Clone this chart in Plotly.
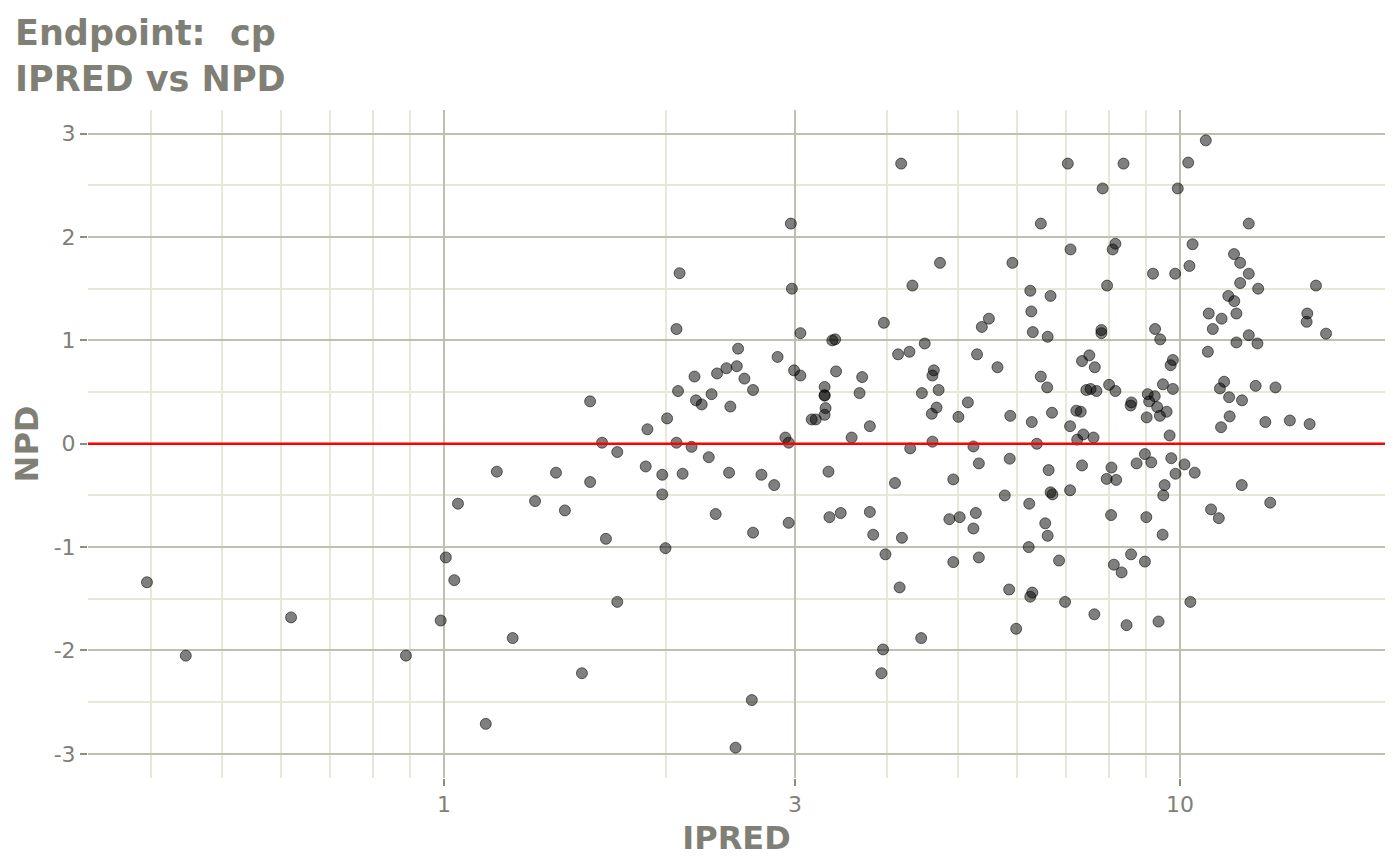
import numpy as np
import plotly.graph_objects as go

# ---- data (IPRED, NPD) ----
ipred = [
    0.395, 0.446, 0.620, 0.888, 0.99, 1.006, 1.033, 1.045, 1.18, 1.24, 1.14,
    2.09, 2.97, 2.07, 3.05, 2.51, 2.84, 2.50, 2.42, 2.35, 2.19, 2.56, 2.99, 3.05,
    2.08, 2.63, 2.31, 2.20, 2.24, 2.45, 1.58, 2.01, 1.89, 1.64, 1.72, 2.07, 2.17,
    2.29, 2.91, 2.94, 3.16, 3.20, 1.42, 1.58, 1.88, 1.98, 2.11, 2.44, 2.70, 2.81,
    1.33, 1.46, 1.98, 2.34, 2.63, 2.94, 1.66, 2.00, 1.72, 1.54, 2.62, 2.49, 2.96,
    4.18, 4.72, 5.92, 4.33, 3.96, 5.50, 5.38, 3.37, 3.40, 4.14, 4.29, 4.50, 5.30,
    5.65, 3.41, 3.70, 4.63, 4.61, 3.29, 3.29, 3.29, 3.67, 4.46, 4.70, 3.30, 3.29,
    4.67, 4.60, 5.15, 5.00, 5.88, 3.79, 3.58, 4.61, 4.30, 5.24,
    5.33, 5.87, 3.33, 4.10, 4.92, 5.78, 3.34, 3.46, 3.79, 3.83, 4.19, 4.86, 5.02,
    5.28, 5.24, 3.98, 4.92, 5.33, 4.16, 5.86, 5.99, 4.45, 3.95, 3.93,
    7.04, 8.38, 7.85, 9.93, 6.47, 7.10, 8.17, 8.10, 9.19, 9.85, 6.26, 6.67, 7.96,
    6.28, 6.31, 6.61, 7.82, 7.82, 9.25, 9.40, 7.53, 7.36, 7.66, 6.47, 6.60, 7.46,
    7.56, 7.70, 8.01, 8.17, 9.78, 9.71, 9.48, 9.78, 8.59, 8.57, 9.04, 9.08, 9.24,
    9.31, 9.39, 9.59, 9.01, 6.29, 6.70, 7.23, 7.33, 7.09, 7.39, 7.25, 7.63, 6.39,
    9.68,
    6.63, 7.36, 8.07, 7.95, 8.19, 8.73, 8.96, 9.14, 9.73, 9.86, 6.67, 6.71, 7.09,
    6.24, 6.56, 6.61, 8.06, 9.00, 9.53, 9.49, 9.47, 6.23, 6.85, 8.13, 8.33, 8.58,
    8.96, 6.26, 6.30, 6.98, 7.65, 8.46, 9.35,
    10.84, 10.26, 12.40, 10.40, 11.84, 12.07, 12.40, 12.07, 12.77, 15.30, 10.30,
    11.63, 11.85, 10.94, 11.39, 11.93, 11.08, 14.89, 14.86, 15.79, 12.40, 11.93,
    12.74, 10.91, 11.48, 11.33, 11.66, 12.14, 12.67, 13.48, 11.68, 11.37, 13.06,
    14.10, 15.00,
    10.14, 10.47, 12.13, 13.26, 11.02, 11.29, 10.33,
]
npd = [
    -1.34, -2.05, -1.68, -2.05, -1.71, -1.10, -1.32, -0.58, -0.27, -1.88, -2.71,
    1.65, 1.50, 1.11, 1.07, 0.92, 0.84, 0.75, 0.73, 0.68, 0.65, 0.63, 0.71, 0.66,
    0.51, 0.52, 0.48, 0.42, 0.38, 0.36, 0.41, 0.245, 0.14, 0.01, -0.08, 0.01, -0.03,
    -0.13, 0.06, 0.01, 0.235, 0.235, -0.28, -0.37, -0.22, -0.30, -0.29, -0.28, -0.30, -0.40,
    -0.555, -0.645, -0.49, -0.68, -0.86, -0.765, -0.92, -1.01, -1.53, -2.22, -2.48, -2.94, 2.13,
    2.71, 1.75, 1.75, 1.53, 1.17, 1.21, 1.13, 1.00, 1.01, 0.865, 0.89, 0.97, 0.865,
    0.74, 0.70, 0.645, 0.71, 0.66, 0.55, 0.47, 0.465, 0.49, 0.49, 0.52, 0.345, 0.28,
    0.35, 0.29, 0.40, 0.26, 0.27, 0.17, 0.06, 0.02, -0.045, -0.026,
    -0.19, -0.145, -0.27, -0.38, -0.345, -0.50, -0.71, -0.67, -0.66, -0.88, -0.91, -0.73, -0.71,
    -0.67, -0.82, -1.07, -1.145, -1.10, -1.39, -1.41, -1.79, -1.88, -1.99, -2.22,
    2.71, 2.71, 2.47, 2.47, 2.13, 1.88, 1.935, 1.88, 1.645, 1.645, 1.48, 1.43, 1.53,
    1.28, 1.08, 1.035, 1.10, 1.07, 1.11, 1.01, 0.855, 0.80, 0.74, 0.65, 0.545, 0.52,
    0.53, 0.51, 0.57, 0.51, 0.81, 0.76, 0.575, 0.53, 0.40, 0.37, 0.48, 0.41, 0.46,
    0.355, 0.27, 0.31, 0.255, 0.21, 0.30, 0.32, 0.31, 0.17, 0.09, 0.04, 0.06, 0.00,
    0.08,
    -0.255, -0.21, -0.23, -0.34, -0.35, -0.19, -0.10, -0.18, -0.14, -0.29, -0.47, -0.49, -0.45,
    -0.58, -0.77, -0.89, -0.69, -0.71, -0.40, -0.50, -0.88, -1.00, -1.13, -1.17, -1.245, -1.07,
    -1.14, -1.48, -1.44, -1.53, -1.65, -1.755, -1.72,
    2.935, 2.72, 2.13, 1.93, 1.835, 1.75, 1.645, 1.555, 1.50, 1.53, 1.72,
    1.43, 1.38, 1.26, 1.21, 1.26, 1.11, 1.26, 1.18, 1.065, 1.05, 0.98,
    0.97, 0.89, 0.60, 0.535, 0.45, 0.42, 0.56, 0.545, 0.265, 0.16, 0.21,
    0.225, 0.19,
    -0.20, -0.28, -0.40, -0.57, -0.635, -0.72, -1.53,
]

x_major = [1, 3, 10]
x_major_text = ["1", "3", "10"]
x_minor = [0.3, 0.4, 0.5, 0.6, 0.7, 0.8, 0.9, 2, 4, 5, 6, 7, 8, 9, 20]
y_major = [-3, -2, -1, 0, 1, 2, 3]
y_minor = [-2.5, -1.5, -0.5, 0.5, 1.5, 2.5]

title_lines = ["Endpoint:  cp", "IPRED vs NPD"]
x_title = "IPRED"
y_title = "NPD"

# ggplot-like 5% expansion
lx = np.log10(ipred)
xspan = lx.max() - lx.min()
xrange = [lx.min() - 0.05 * xspan, lx.max() + 0.05 * xspan]
yspan = max(npd) - min(npd)
yrange = [min(npd) - 0.05 * yspan, max(npd) + 0.05 * yspan]

GREY_TXT = "#7f7f75"
TICK = "#8c8c82"
MAJOR = "#bfbfb2"
MINOR = "#e8e8da"

# figure sits inside the page body's default 8px margin
W, H = 1384, 849
ML, MR, MT, MB = 80, 7, 102, 79
pw = W - ML - MR
ph = H - MT - MB

fig = go.Figure()
fig.add_trace(go.Scatter(
    x=ipred, y=npd, mode="markers",
    marker=dict(size=11, color="rgba(0,0,0,0.5)",
                line=dict(color="rgba(0,0,0,0.55)", width=1)),
    hoverinfo="x+y", showlegend=False,
))
fig.add_hline(y=0, line=dict(color="#ff0000", width=2.5), layer="above")

# two-line bold title, left aligned at the page edge
title_centers_px = [33, 79]  # vertical centre of each line, page pixels
for line, cy in zip(title_lines, title_centers_px):
    fig.add_annotation(
        text="<b>" + line + "</b>", showarrow=False,
        xref="paper", yref="paper",
        x=(5 - ML) / pw, y=1 + (MT - (cy - 8)) / ph,
        xanchor="left", yanchor="middle",
        font=dict(size=35, color=GREY_TXT, family="DejaVu Sans"),
    )

fig.update_layout(
    width=W, height=H,
    paper_bgcolor="white", plot_bgcolor="white",
    margin=dict(l=ML, r=MR, t=MT, b=MB),
    font=dict(family="DejaVu Sans", color=GREY_TXT),
    xaxis=dict(
        type="log", range=xrange,
        tickvals=x_major, ticktext=x_major_text,
        showgrid=True, gridcolor=MAJOR, gridwidth=2,
        zeroline=False, showline=False,
        ticks="outside", ticklen=7, tickwidth=2, tickcolor=TICK,
        tickfont=dict(size=22, color=GREY_TXT),
        minor=dict(tickvals=x_minor, showgrid=True, gridcolor=MINOR,
                   gridwidth=1.6, ticks=""),
        title=dict(text="<b>" + x_title + "</b>", standoff=12,
                   font=dict(size=32, color=GREY_TXT)),
        automargin=False,
    ),
    yaxis=dict(
        range=yrange,
        tickvals=y_major, ticktext=[str(v) for v in y_major],
        showgrid=True, gridcolor=MAJOR, gridwidth=2,
        zeroline=False, showline=False,
        ticks="outside", ticklen=7, tickwidth=2, tickcolor=TICK,
        tickfont=dict(size=22, color=GREY_TXT),
        minor=dict(tickvals=y_minor, showgrid=True, gridcolor=MINOR,
                   gridwidth=1.6, ticks=""),
        title=dict(text="<b>" + y_title + "</b>", standoff=13,
                   font=dict(size=32, color=GREY_TXT)),
        automargin=False,
    ),
)

fig.write_html("out.html")
